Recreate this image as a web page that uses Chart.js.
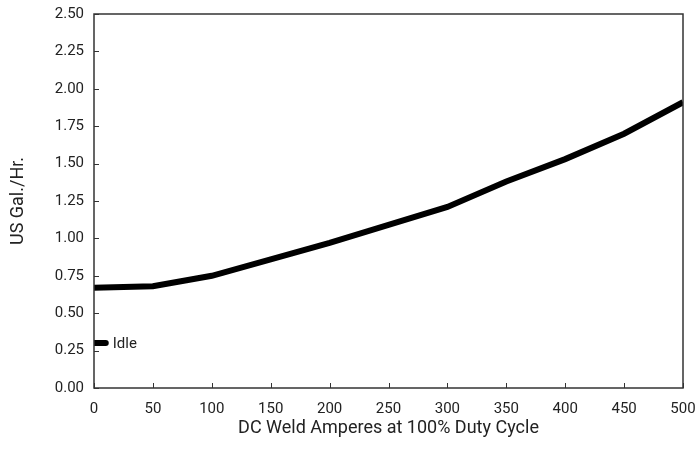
<!DOCTYPE html>
<html>
<head>
<meta charset="utf-8">
<script src="https://cdn.jsdelivr.net/npm/chart.js@4"></script>
<style>
  html, body { margin: 0; padding: 0; background: #fff; }
  #box { width: 695px; height: 466px; }
</style>
</head>
<body>
<div id="box"><canvas id="fuelChart"></canvas></div>
<script>
var ctx = document.getElementById('fuelChart').getContext('2d');
let fontName = "'Roboto', sans-serif";
let textColor = '#222';

// weld amps and fuel use
let amps = [0, 50, 100, 150, 200, 250, 300, 350, 400, 450, 500];
let gallons = [0.67, 0.68, 0.75, 0.86, 0.97, 1.09, 1.21, 1.38, 1.53, 1.70, 1.91];
let idleAmps = [0, 10];
let idleGallons = [0.30, 0.30];
let idleLabel = 'Idle';
let xTitle = 'DC Weld Amperes at 100% Duty Cycle';
let yTitle = 'US Gal./Hr.';

const toPoints = (xs, ys) => xs.map((x, i) => ({ x: x, y: ys[i] }));

// frame + inward ticks
const framePlugin = {
  id: 'frame',
  afterDraw(chart) {
    const c = chart.ctx;
    const a = chart.chartArea;
    c.save();
    c.strokeStyle = '#333';
    c.lineWidth = 1.5;
    c.strokeRect(a.left, a.top, a.right - a.left, a.bottom - a.top);
    c.lineWidth = 1;
    c.beginPath();
    chart.scales.x.ticks.forEach(t => {
      const px = Math.round(chart.scales.x.getPixelForValue(t.value)) + 0.5;
      c.moveTo(px, a.bottom);
      c.lineTo(px, a.bottom - 5);
    });
    chart.scales.y.ticks.forEach(t => {
      const py = Math.round(chart.scales.y.getPixelForValue(t.value)) + 0.5;
      c.moveTo(a.left, py);
      c.lineTo(a.left + 5, py);
    });
    c.stroke();
    c.restore();
  },
  afterDatasetsDraw(chart) {
    // label next to the idle mark
    const meta = chart.getDatasetMeta(1);
    const last = meta.data[meta.data.length - 1];
    const c = chart.ctx;
    c.save();
    c.fillStyle = textColor;
    c.font = '15px ' + fontName;
    c.textBaseline = 'middle';
    c.fillText(idleLabel, last.x + 7, last.y + 1);
    c.restore();
  }
};

new Chart(ctx, {
  type: 'line',
  data: {
    datasets: [{
      label: 'Fuel',
      data: toPoints(amps, gallons),
      borderColor: '#000',
      borderWidth: 6,
      pointRadius: 0,
      tension: 0,
      borderCapStyle: 'butt'
    }, {
      label: idleLabel,
      data: toPoints(idleAmps, idleGallons),
      borderColor: '#000',
      borderWidth: 6,
      pointRadius: 0,
      borderCapStyle: 'round'
    }]
  },
  options: {
    responsive: true,
    maintainAspectRatio: false,
    animation: false,
    layout: { padding: { top: 14, right: 0, left: 0, bottom: 0 } },
    plugins: {
      legend: { display: false },
      tooltip: { enabled: false }
    },
    scales: {
      x: {
        type: 'linear',
        min: 0,
        max: 500,
        ticks: {
          stepSize: 50,
          color: textColor,
          font: { family: fontName, size: 15 },
          padding: 12,
          maxRotation: 0
        },
        grid: { display: false, drawTicks: false },
        border: { display: false },
        title: {
          display: true,
          text: xTitle,
          color: textColor,
          font: { family: fontName, size: 18 },
          padding: { top: 0, bottom: 27 }
        },
        afterFit: function (scale) {
          scale.height = 78;
          scale.paddingRight = 12;
          scale.paddingLeft = 0;
        }
      },
      y: {
        min: 0,
        max: 2.5,
        ticks: {
          stepSize: 0.25,
          color: textColor,
          font: { family: fontName, size: 15 },
          padding: 10,
          callback: v => v.toFixed(2)
        },
        grid: { display: false, drawTicks: false },
        border: { display: false },
        title: {
          display: true,
          text: yTitle,
          color: textColor,
          font: { family: fontName, size: 18 },
          padding: { top: 8, bottom: 0 }
        },
        afterFit: function (scale) {
          scale.width = 94;
          scale.paddingTop = 0;
          scale.paddingBottom = 0;
        }
      }
    }
  },
  plugins: [framePlugin]
});
</script>
</body>
</html>
